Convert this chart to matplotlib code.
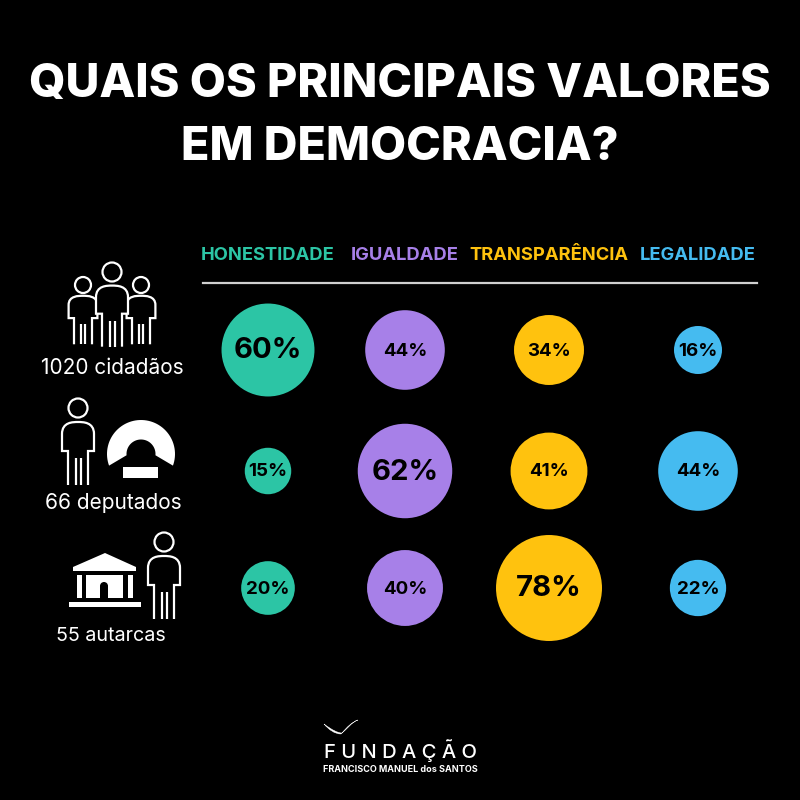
import matplotlib
matplotlib.use("Agg")
import matplotlib.pyplot as plt
from matplotlib.patches import Circle, Rectangle, Polygon, PathPatch
from matplotlib.path import Path
import numpy as np

# Data
TITLE_LINES = ["QUAIS OS PRINCIPAIS VALORES", "EM DEMOCRACIA?"]
VALUES_NAMES = ["HONESTIDADE", "IGUALDADE", "TRANSPARÊNCIA", "LEGALIDADE"]
GROUPS = ["1020 cidadãos", "66 deputados", "55 autarcas"]
HONESTIDADE = [60, 15, 20]
IGUALDADE = [44, 62, 40]
TRANSPARENCIA = [34, 41, 78]
LEGALIDADE = [16, 44, 22]
SERIES = [HONESTIDADE, IGUALDADE, TRANSPARENCIA, LEGALIDADE]

COLORS = ["#2cc5a5", "#a780e8", "#ffc20e", "#45bbf0"]
COL_X = [268, 405, 549, 698]
ROW_Y = [350, 471, 588]
LABEL_X = [112, 113, 111]
LABEL_Y = [368, 503, 636]
LABEL_SIZE = [15, 15, 14.2]
RADIUS_SCALE = 6.0  # circle area follows the percentage

plt.rcParams['font.family'] = ['Inter', 'DejaVu Sans']

fig = plt.figure(figsize=(8, 8), dpi=100, facecolor='black')
ax = fig.add_axes([0, 0, 1, 1])
ax.set_xlim(0, 800)
ax.set_ylim(800, 0)
ax.set_aspect('equal')
ax.axis('off')


def person(cx, cy, sx=1.0, sy=1.0, r=9.5, lw=1.6, z=3):
    # head plus body outline, cy is the head centre
    ax.add_patch(Circle((cx, cy), r, fill=False, ec='white', lw=lw, zorder=z))
    pts = [(-10, 77), (-10, 43), (-16, 43), (-16, 26), (-16, 14), (-5, 14), (0, 14),
           (5, 14), (16, 14), (16, 26), (16, 43), (10, 43), (10, 77)]
    codes = [Path.MOVETO, Path.LINETO, Path.LINETO, Path.LINETO, Path.CURVE4, Path.CURVE4, Path.CURVE4,
             Path.CURVE4, Path.CURVE4, Path.CURVE4, Path.LINETO, Path.LINETO, Path.LINETO]
    verts = [(cx + x * sx, cy + y * sy) for x, y in pts]
    ax.add_patch(PathPatch(Path(verts, codes), fc='black', ec='white', lw=lw, zorder=z))
    for dx in (-2.5, 2.5):
        ax.plot([cx + dx * sx, cx + dx * sx], [cy + 50 * sy, cy + 77 * sy], color='white', lw=lw,
                solid_capstyle='butt', zorder=z)


def arc(cx, cy, r, a0, a1):
    t = np.radians(np.linspace(a0, a1, 60))
    return np.column_stack([cx + r * np.cos(t), cy + r * np.sin(t)])


def parliament():
    ring = np.vstack([arc(141, 454, 34, 160, 380), arc(141, 454, 14.5, 365, 175)])
    ax.add_patch(Polygon(ring, fc='white', ec='none', zorder=3))
    ax.add_patch(Rectangle((123, 467), 35, 11, fc='white', ec='none', zorder=3))


def building():
    ax.add_patch(Polygon([(73, 571), (73, 567), (105, 553), (136, 567), (136, 571)], fc='white', ec='none'))
    for x, w in [(77, 5), (128, 5), (86, 37)]:
        ax.add_patch(Rectangle((x, 575), w, 23, fc='white', ec='none'))
    ax.add_patch(Rectangle((100, 586), 8, 12, fc='black', ec='none'))
    ax.add_patch(Circle((104, 586), 4, fc='black', ec='none'))
    ax.add_patch(Rectangle((69, 602), 72, 5, fc='white', ec='none'))


def bird():
    verts = [(324, 724), (332, 730), (338, 733), (342, 733), (347, 727), (352, 722), (358, 720),
             (352, 722), (347, 729), (341, 734), (335, 734), (329, 730), (324, 724)]
    codes = [Path.MOVETO] + [Path.CURVE4] * 12
    ax.add_patch(PathPatch(Path(verts, codes), fc='white', ec='white', lw=0.3))


# Title
for line, y in zip(TITLE_LINES, [85, 148]):
    ax.text(400, y, line, color='white', fontsize=33.6, fontweight=800, ha='center', va='center')

# Column headers and rule
for name, color, x in zip(VALUES_NAMES, COLORS, COL_X):
    ax.text(x - 0.5, 256, name, color=color, fontsize=13.2, fontweight='bold', ha='center', va='center')
ax.plot([203, 757], [283, 283], color='#d0d0d0', lw=1.6)

# Bubbles
for s, color, x in zip(SERIES, COLORS, COL_X):
    for i, (v, y) in enumerate(zip(s, ROW_Y)):
        ax.add_patch(Circle((x, y), RADIUS_SCALE * np.sqrt(v), fc=color, ec='none', zorder=2))
        row_max = max(col[i] for col in SERIES)
        ax.text(x, y + 1, f"{v}%", color='black', fontsize=21 if v == row_max else 13.5, fontweight='bold',
                ha='center', va='center', zorder=4)

# Row icons and labels
person(83, 285, sx=0.9, sy=0.77, r=8)
person(141, 285, sx=0.9, sy=0.77, r=8)
person(112, 272, sx=1.0, sy=0.97)
person(78, 408)
parliament()
building()
person(164, 542)
for label, x, y, size in zip(GROUPS, LABEL_X, LABEL_Y, LABEL_SIZE):
    ax.text(x, y, label, color='white', fontsize=size, ha='center', va='center')

# Logo
bird()
ax.text(400, 751, "F U N D A Ç Ã O", color='white', fontsize=14.5, fontweight='medium', ha='center', va='center')
ax.text(400, 769, "FRANCISCO MANUEL dos SANTOS", color='white', fontsize=6.5, fontweight='bold',
        ha='center', va='center')

fig.savefig("out.png", dpi=100, facecolor='black')
